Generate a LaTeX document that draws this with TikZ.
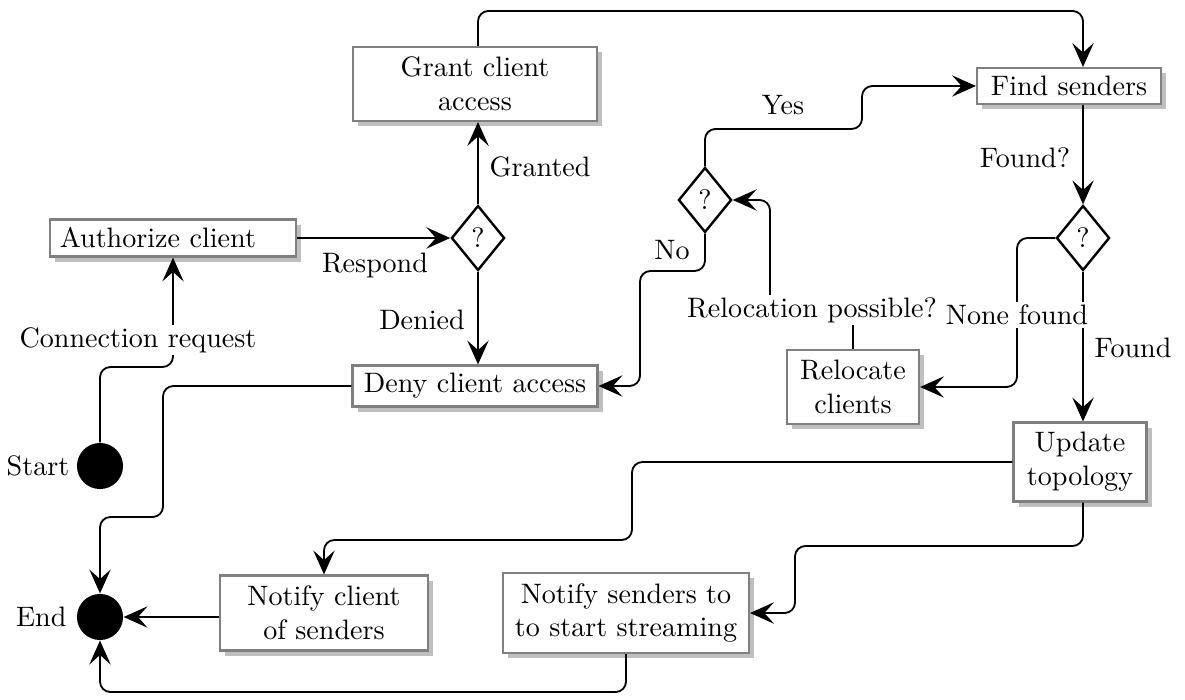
\documentclass[tikz,border=0pt]{standalone}
\usetikzlibrary{arrows.meta,shapes.geometric,shadows}
\begin{document}
\begin{tikzpicture}[x=0.3558pt,y=-0.3558pt,
  box/.style={draw=black!50, line width=0.75pt, fill=white, align=center, inner sep=2pt,
    drop shadow={shadow xshift=1.8pt, shadow yshift=-1.8pt, fill=black!25, opacity=1}},
  choice/.style={diamond, draw, line width=0.85pt, fill=white, inner sep=0pt,
    minimum width=18.9pt, minimum height=23.1pt},
  terminal/.style={circle, fill=black, minimum size=16.4pt, inner sep=0pt},
  flow/.style={line width=0.65pt, rounded corners=3.7pt,
    -{Stealth[length=8.5pt,width=7.6pt,inset=3.4pt]}},
  cover/.style={fill=white, inner sep=1pt}]
\useasboundingbox (0,0) rectangle (1185,700);

% activity boxes
\node[box, minimum width=86.8pt, minimum height=26.3pt] (grant) at (475,84) {Grant client\\access};
\node[box, minimum height=13.2pt, inner xsep=3.5pt, text width=80.5pt, align=left] (auth) at (173,238) {Authorize client};
\node[box, minimum width=87.2pt, minimum height=14.6pt] (deny) at (475,386) {Deny client access};
\node[box, minimum width=65.5pt, minimum height=12.8pt] (find) at (1069,86) {Find senders};
\node[box, minimum width=47pt, minimum height=26.3pt] (reloc) at (853,387) {Relocate\\clients};
\node[box, minimum width=47.3pt, minimum height=28.1pt] (upd) at (1080,462) {Update\\topology};
\node[box, minimum width=73.7pt, minimum height=26.7pt] (notc) at (324,613) {Notify client\\of senders};
\node[box, minimum width=87.5pt, minimum height=28.5pt] (nots) at (626,613) {Notify senders to\\to start streaming};

% decisions
\node[choice] (q1) at (478,238) {?};
\node[choice] (q2) at (705,200) {?};
\node[choice] (q3) at (1083,238) {?};

% start and end
\node[terminal, label={[label distance=-1pt]left:Start}] (start) at (100,466) {};
\node[terminal, label=left:End] (end) at (100,617) {};

% routing points
\coordinate (topway) at (1083,11);
\coordinate (yesbend) at (862,129);
\coordinate (nobend) at (640,271);
\coordinate (relbend) at (770,310);
\coordinate (nonebend) at (1017,315);
\coordinate (reqbend) at (173,367);
\coordinate (denybend) at (163,517);
\coordinate (updbendA) at (632,540);
\coordinate (updbendB) at (795,546);
\coordinate (bottomway) at (100,692);

% connectors
\draw[flow] (start.north) |- (reqbend) -- (auth.south);
\draw[flow] (auth.east) -- (q1.west);
\draw[flow] (q1.north) -- (q1.north |- grant.south);
\draw[flow] (q1.south) -- (q1.south |- deny.north);
\draw[flow] (grant.north -| q1.north) |- (topway) -- (topway |- find.north);
\draw[flow] (q2.north) |- (yesbend) |- (find.west);
\draw[flow] (q2.south) |- (nobend) |- (deny.east);
\draw[flow] (reloc.north) |- (relbend) |- (q2.east);
\draw[flow] (q3 |- find.south) -- (q3.north);
\draw[flow] (q3.south) -- (q3.south |- upd.north);
\draw[flow] (q3.west) -| (nonebend) |- (reloc.east);
\draw[flow] (upd.west) -| (updbendA) -| (notc.north);
\draw[flow] (q3 |- upd.south) |- (updbendB) |- (nots.east);
\draw[flow] (nots.south) |- (bottomway) -- (end.south);
\draw[flow] (deny.west) -| (denybend) -| (end.north);
\draw[flow] (notc.west |- end) -- (end.east);

% connector labels
\node (granted) at (540,167) {Granted};
\node (respond) at (375,265) {Respond};
\node (denied) at (422,320) {Denied};
\node (yes) at (783,105) {Yes};
\node (no) at (672,250) {No};
\node (foundq) at (1025,158) {Found?};
\node (found) at (1133,348) {Found};
\node[cover] (creq) at (138,340) {Connection request};
\node[cover] (relq) at (812,310) {Relocation possible?};
\node[cover] (none) at (1017,315) {None found};
\end{tikzpicture}
\end{document}
